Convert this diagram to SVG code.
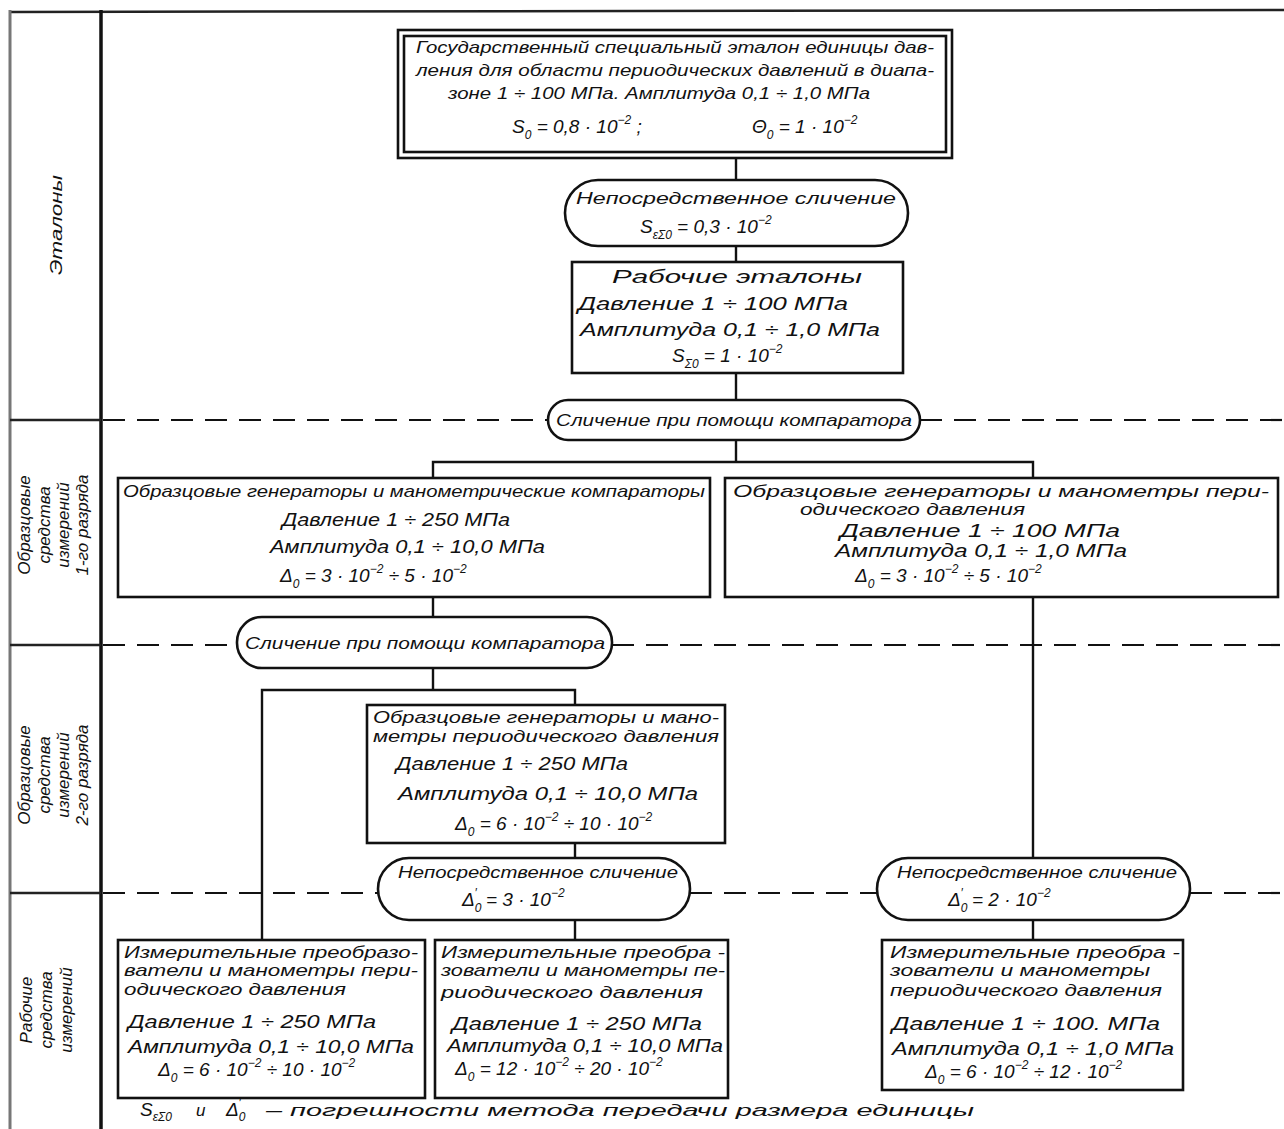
<svg xmlns="http://www.w3.org/2000/svg" width="1284" height="1129" viewBox="0 0 1284 1129">
<style>
  .bg{fill:#fff}
  .box{fill:#fff;stroke:#111;stroke-width:2.6}
  .pill{fill:#fff;stroke:#111;stroke-width:2.6}
  .ln{fill:none;stroke:#111;stroke-width:2.4}
  .dash{fill:none;stroke:#111;stroke-width:2.2;stroke-dasharray:22 12}
  .frame{fill:none;stroke:#222;stroke-width:2.5}
  .t{font-family:"Liberation Sans","DejaVu Sans",sans-serif;font-style:italic;font-size:17px;fill:#111}
  .m{font-family:"Liberation Sans","DejaVu Sans",sans-serif;font-style:italic;font-size:19px;fill:#111}
  .s{font-size:12px}
  .side{font-family:"Liberation Sans","DejaVu Sans",sans-serif;font-style:italic;font-size:17px;fill:#111}
</style>
<rect class="bg" x="0" y="0" width="1284" height="1129"/>

<g id="frame">
  <line class="frame" x1="10" y1="12" x2="1284" y2="10"/>
  <line x1="10" y1="10" x2="10" y2="1129" stroke="#777" stroke-width="3"/>
  <line x1="101" y1="10" x2="101" y2="1129" stroke="#111" stroke-width="3.5"/>
  <line class="frame" x1="10" y1="420" x2="101" y2="420"/>
  <line class="frame" x1="10" y1="645" x2="101" y2="645"/>
  <line class="frame" x1="10" y1="893" x2="101" y2="893"/>
  <text class="side" transform="translate(62,225) rotate(-90)" text-anchor="middle" textLength="100" lengthAdjust="spacingAndGlyphs">Эталоны</text>
  <g>
    <text class="side" transform="translate(30,525) rotate(-90)" text-anchor="middle">Образцовые</text>
    <text class="side" transform="translate(50,525) rotate(-90)" text-anchor="middle">средства</text>
    <text class="side" transform="translate(69,525) rotate(-90)" text-anchor="middle">измерений</text>
    <text class="side" transform="translate(88,525) rotate(-90)" text-anchor="middle">1-го разряда</text>
  </g>
  <g>
    <text class="side" transform="translate(30,775) rotate(-90)" text-anchor="middle">Образцовые</text>
    <text class="side" transform="translate(50,775) rotate(-90)" text-anchor="middle">средства</text>
    <text class="side" transform="translate(69,775) rotate(-90)" text-anchor="middle">измерений</text>
    <text class="side" transform="translate(88,775) rotate(-90)" text-anchor="middle">2-го разряда</text>
  </g>
  <g>
    <text class="side" transform="translate(32,1010) rotate(-90)" text-anchor="middle">Рабочие</text>
    <text class="side" transform="translate(52,1010) rotate(-90)" text-anchor="middle">средства</text>
    <text class="side" transform="translate(72,1010) rotate(-90)" text-anchor="middle">измерений</text>
  </g>
</g>

<g id="connectors">
  <line class="dash" x1="103" y1="420" x2="548" y2="420"/>
  <line class="dash" x1="920" y1="420" x2="1284" y2="420"/>
  <line class="dash" x1="103" y1="645" x2="237" y2="645"/>
  <line class="dash" x1="612" y1="645" x2="1284" y2="645"/>
  <line class="dash" x1="103" y1="893" x2="378" y2="893"/>
  <line class="dash" x1="690" y1="893" x2="877" y2="893"/>
  <line class="dash" x1="1190" y1="893" x2="1284" y2="893"/>
  <line class="ln" x1="736" y1="158" x2="736" y2="180"/>
  <line class="ln" x1="736" y1="246" x2="736" y2="262"/>
  <line class="ln" x1="736" y1="373" x2="736" y2="400"/>
  <polyline class="ln" points="433,478 433,462 1033,462 1033,478"/>
  <line class="ln" x1="736" y1="440" x2="736" y2="462"/>
  <line class="ln" x1="433" y1="597" x2="433" y2="617"/>
  <line class="ln" x1="433" y1="668" x2="433" y2="690"/>
  <polyline class="ln" points="262,940 262,690 575,690 575,705"/>
  <line class="ln" x1="575" y1="843" x2="575" y2="858"/>
  <line class="ln" x1="575" y1="920" x2="575" y2="940"/>
  <line class="ln" x1="1033" y1="597" x2="1033" y2="858"/>
  <line class="ln" x1="1033" y1="920" x2="1033" y2="940"/>
</g>

<g id="state-standard">
  <rect class="box" x="398" y="30" width="554" height="128"/>
  <rect class="box" x="404" y="36" width="542" height="116" stroke-width="2"/>
  <text class="t" x="416" y="53" textLength="518" lengthAdjust="spacingAndGlyphs">Государственный специальный эталон единицы дав-</text>
  <text class="t" x="416" y="76" textLength="518" lengthAdjust="spacingAndGlyphs">ления для области периодических давлений в диапа-</text>
  <text class="t" x="448" y="99" textLength="422" lengthAdjust="spacingAndGlyphs">зоне 1 ÷ 100 МПа.    Амплитуда 0,1 ÷ 1,0 МПа</text>
  <text class="m" x="512" y="133">S<tspan class="s" dy="6">0</tspan><tspan dy="-6"> = 0,8 · 10</tspan><tspan class="s" dy="-9">−2</tspan><tspan dy="9"> ;</tspan></text>
  <text class="m" x="752" y="133">Θ<tspan class="s" dy="6">0</tspan><tspan dy="-6"> = 1 · 10</tspan><tspan class="s" dy="-9">−2</tspan></text>
</g>

<g id="direct-comparison-1">
  <rect class="pill" x="565" y="180" width="343" height="66" rx="33" ry="33"/>
  <text class="t" x="576" y="204" textLength="320" lengthAdjust="spacingAndGlyphs">Непосредственное сличение</text>
  <text class="m" x="640" y="233">S<tspan class="s" dy="6">εΣ0</tspan><tspan dy="-6"> = 0,3 · 10</tspan><tspan class="s" dy="-9">−2</tspan></text>
</g>

<g id="working-standards">
  <rect class="box" x="572" y="262" width="331" height="111"/>
  <text class="m" x="737" y="283" text-anchor="middle" textLength="250" lengthAdjust="spacingAndGlyphs">Рабочие    эталоны</text>
  <text class="m" x="578" y="310" textLength="270" lengthAdjust="spacingAndGlyphs">Давление  1 ÷ 100 МПа</text>
  <text class="m" x="580" y="336" textLength="300" lengthAdjust="spacingAndGlyphs">Амплитуда 0,1 ÷ 1,0 МПа</text>
  <text class="m" x="672" y="362">S<tspan class="s" dy="6">Σ0</tspan><tspan dy="-6"> = 1 · 10</tspan><tspan class="s" dy="-9">−2</tspan></text>
</g>

<g id="comparator-1">
  <rect class="pill" x="548" y="400" width="372" height="40" rx="20" ry="20"/>
  <text class="t" x="556" y="426" textLength="356" lengthAdjust="spacingAndGlyphs">Сличение при помощи компаратора</text>
</g>

<g id="grade1-left">
  <rect class="box" x="118" y="478" width="592" height="119"/>
  <text class="t" x="123" y="497" textLength="582" lengthAdjust="spacingAndGlyphs">Образцовые генераторы и манометрические компараторы</text>
  <text class="m" x="282" y="526" textLength="228" lengthAdjust="spacingAndGlyphs">Давление 1 ÷ 250 МПа</text>
  <text class="m" x="270" y="553" textLength="275" lengthAdjust="spacingAndGlyphs">Амплитуда 0,1 ÷ 10,0 МПа</text>
  <text class="m" x="280" y="582">Δ<tspan class="s" dy="6">0</tspan><tspan dy="-6"> = 3 · 10</tspan><tspan class="s" dy="-9">−2</tspan><tspan dy="9"> ÷ 5 · 10</tspan><tspan class="s" dy="-9">−2</tspan></text>
</g>

<g id="grade1-right">
  <rect class="box" x="725" y="478" width="553" height="119"/>
  <text class="t" x="733" y="497" textLength="536" lengthAdjust="spacingAndGlyphs">Образцовые генераторы и манометры пери-</text>
  <text class="t" x="800" y="515" textLength="225" lengthAdjust="spacingAndGlyphs">одического давления</text>
  <text class="m" x="840" y="537" textLength="280" lengthAdjust="spacingAndGlyphs">Давление   1 ÷ 100 МПа</text>
  <text class="m" x="835" y="557" textLength="292" lengthAdjust="spacingAndGlyphs">Амплитуда  0,1 ÷ 1,0 МПа</text>
  <text class="m" x="855" y="582">Δ<tspan class="s" dy="6">0</tspan><tspan dy="-6"> = 3 · 10</tspan><tspan class="s" dy="-9">−2</tspan><tspan dy="9"> ÷ 5 · 10</tspan><tspan class="s" dy="-9">−2</tspan></text>
</g>

<g id="comparator-2">
  <rect class="pill" x="237" y="617" width="375" height="51" rx="25" ry="25"/>
  <text class="t" x="245" y="649" textLength="360" lengthAdjust="spacingAndGlyphs">Сличение при помощи компаратора</text>
</g>

<g id="grade2">
  <rect class="box" x="367" y="705" width="358" height="138"/>
  <text class="t" x="373" y="723" textLength="346" lengthAdjust="spacingAndGlyphs">Образцовые генераторы и мано-</text>
  <text class="t" x="373" y="742" textLength="346" lengthAdjust="spacingAndGlyphs">метры периодического давления</text>
  <text class="m" x="396" y="770" textLength="232" lengthAdjust="spacingAndGlyphs">Давление 1 ÷ 250 МПа</text>
  <text class="m" x="398" y="800" textLength="300" lengthAdjust="spacingAndGlyphs">Амплитуда  0,1 ÷ 10,0 МПа</text>
  <text class="m" x="455" y="830">Δ<tspan class="s" dy="6">0</tspan><tspan dy="-6"> = 6 · 10</tspan><tspan class="s" dy="-9">−2</tspan><tspan dy="9"> ÷ 10 · 10</tspan><tspan class="s" dy="-9">−2</tspan></text>
</g>

<g id="direct-comparison-2">
  <rect class="pill" x="378" y="858" width="312" height="62" rx="31" ry="31"/>
  <text class="t" x="398" y="878" textLength="280" lengthAdjust="spacingAndGlyphs">Непосредственное сличение</text>
  <text class="m" x="462" y="906">Δ<tspan class="s" dy="6">0</tspan><tspan class="s" dx="-7" dy="-15">′</tspan><tspan dy="9" dx="4"> = 3 · 10</tspan><tspan class="s" dy="-9">−2</tspan></text>
</g>

<g id="direct-comparison-3">
  <rect class="pill" x="877" y="858" width="313" height="62" rx="31" ry="31"/>
  <text class="t" x="897" y="878" textLength="280" lengthAdjust="spacingAndGlyphs">Непосредственное сличение</text>
  <text class="m" x="948" y="906">Δ<tspan class="s" dy="6">0</tspan><tspan class="s" dx="-7" dy="-15">′</tspan><tspan dy="9" dx="4"> = 2 · 10</tspan><tspan class="s" dy="-9">−2</tspan></text>
</g>

<g id="working-left">
  <rect class="box" x="118" y="940" width="307" height="158"/>
  <text class="t" x="124" y="958" textLength="294" lengthAdjust="spacingAndGlyphs">Измерительные преобразо-</text>
  <text class="t" x="124" y="976" textLength="294" lengthAdjust="spacingAndGlyphs">ватели и манометры пери-</text>
  <text class="t" x="124" y="995" textLength="222" lengthAdjust="spacingAndGlyphs">одического  давления</text>
  <text class="m" x="128" y="1028" textLength="248" lengthAdjust="spacingAndGlyphs">Давление   1 ÷ 250 МПа</text>
  <text class="m" x="128" y="1053" textLength="286" lengthAdjust="spacingAndGlyphs">Амплитуда 0,1 ÷ 10,0 МПа</text>
  <text class="m" x="158" y="1076">Δ<tspan class="s" dy="6">0</tspan><tspan dy="-6"> = 6 · 10</tspan><tspan class="s" dy="-9">−2</tspan><tspan dy="9"> ÷ 10 · 10</tspan><tspan class="s" dy="-9">−2</tspan></text>
</g>

<g id="working-middle">
  <rect class="box" x="435" y="940" width="293" height="158"/>
  <text class="t" x="441" y="958" textLength="284" lengthAdjust="spacingAndGlyphs">Измерительные  преобра -</text>
  <text class="t" x="441" y="976" textLength="284" lengthAdjust="spacingAndGlyphs">зователи и манометры пе-</text>
  <text class="t" x="441" y="998" textLength="262" lengthAdjust="spacingAndGlyphs">риодического  давления</text>
  <text class="m" x="452" y="1030" textLength="250" lengthAdjust="spacingAndGlyphs">Давление   1 ÷ 250 МПа</text>
  <text class="m" x="447" y="1052" textLength="276" lengthAdjust="spacingAndGlyphs">Амплитуда  0,1 ÷ 10,0 МПа</text>
  <text class="m" x="455" y="1075">Δ<tspan class="s" dy="6">0</tspan><tspan dy="-6"> = 12 · 10</tspan><tspan class="s" dy="-9">−2</tspan><tspan dy="9"> ÷ 20 · 10</tspan><tspan class="s" dy="-9">−2</tspan></text>
</g>

<g id="working-right">
  <rect class="box" x="882" y="940" width="301" height="150"/>
  <text class="t" x="890" y="958" textLength="290" lengthAdjust="spacingAndGlyphs">Измерительные преобра -</text>
  <text class="t" x="890" y="976" textLength="260" lengthAdjust="spacingAndGlyphs">зователи и манометры</text>
  <text class="t" x="890" y="996" textLength="272" lengthAdjust="spacingAndGlyphs">периодического давления</text>
  <text class="m" x="892" y="1030" textLength="268" lengthAdjust="spacingAndGlyphs">Давление  1 ÷ 100. МПа</text>
  <text class="m" x="892" y="1055" textLength="282" lengthAdjust="spacingAndGlyphs">Амплитуда  0,1 ÷ 1,0 МПа</text>
  <text class="m" x="925" y="1078">Δ<tspan class="s" dy="6">0</tspan><tspan dy="-6"> = 6 · 10</tspan><tspan class="s" dy="-9">−2</tspan><tspan dy="9"> ÷ 12 · 10</tspan><tspan class="s" dy="-9">−2</tspan></text>
</g>

<g id="footnote">
  <text class="m" x="140" y="1116">S<tspan class="s" dy="5">εΣ0</tspan></text>
  <text class="t" x="196" y="1116">и</text>
  <text class="m" x="226" y="1116">Δ<tspan class="s" dy="5">0</tspan><tspan class="s" dx="-7" dy="-14">′</tspan></text>
  <text class="t" x="266" y="1116" textLength="708" lengthAdjust="spacingAndGlyphs">– погрешности  метода  передачи  размера  единицы</text>
</g>
</svg>
